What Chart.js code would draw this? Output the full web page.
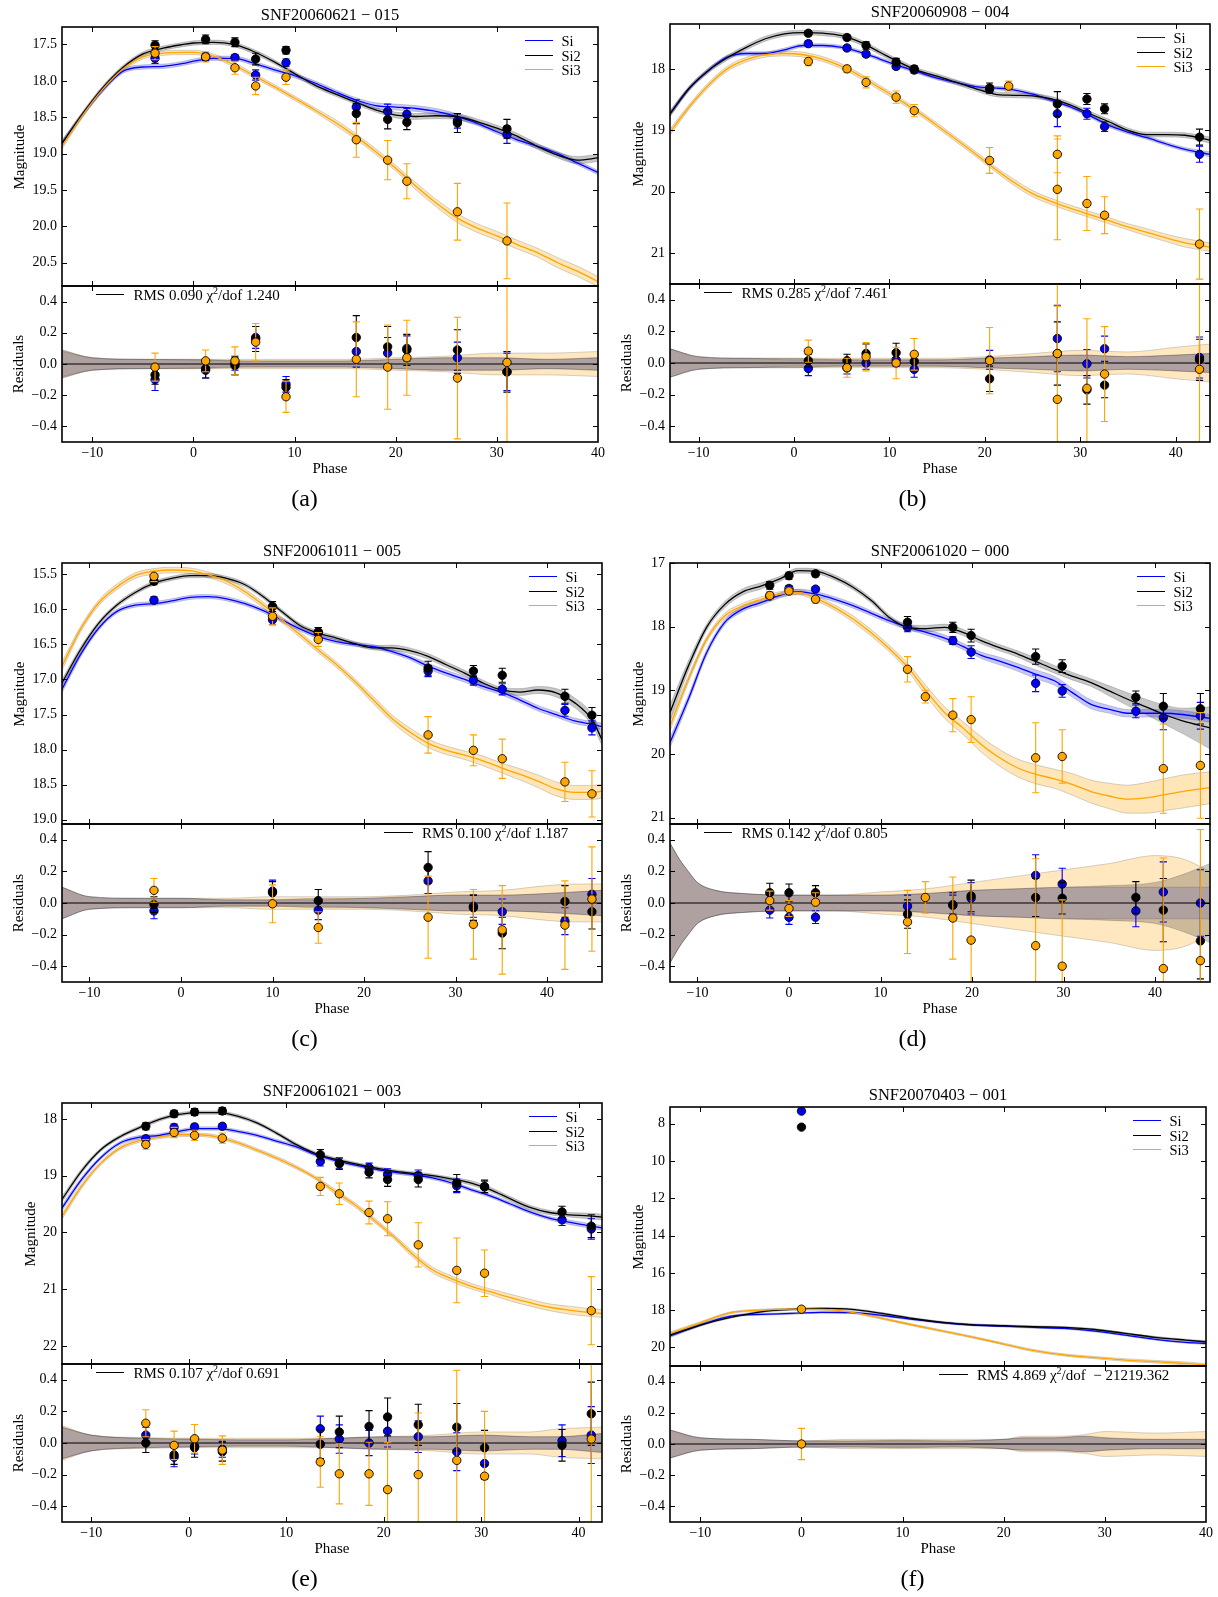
<!DOCTYPE html>
<html>
<head>
<meta charset="utf-8">
<title>Si light curves</title>
<script src="https://cdn.jsdelivr.net/npm/chart.js@4.4.1/dist/chart.umd.min.js"></script>
<style>
  html, body { margin: 0; padding: 0; background: #fff; }
  body { position: relative; width: 1218px; height: 1597px; overflow: hidden;
         font-family: "Liberation Serif", "DejaVu Serif", serif; color: #000; }
  canvas { position: absolute; }
  .t { position: absolute; white-space: nowrap; line-height: 1; }
  .title { font-size: 16.5px; transform: translate(-50%, -50%); }
  .axl { font-size: 15px; transform: translate(-50%, -50%); }
  .rot { font-size: 15px; transform: translate(-50%, -50%) rotate(-90deg); }
  .letter { font-size: 24px; transform: translate(-50%, -50%); }
  .leg { font-size: 14.5px; transform: translateY(-50%); }
  .rms { font-size: 15px; transform: translateY(-50%); }
  .rms sup { font-size: 10px; vertical-align: 6px; line-height: 0; }
  .sw { position: absolute; height: 0; }
</style>
</head>
<body>
<script>
// ---- shared axis settings ----
const phaseTicks = [-10, 0, 10, 20, 30, 40];
const resTicks = [-0.4, -0.2, 0, 0.2, 0.4];
const resRange = [-0.5, 0.5];
const seriesNames = ['Si', 'Si2', 'Si3'];

// ---- (a) SNF20060621 - 015 ----
const titleA = 'SNF20060621 \u2212 015';
const rmsA = 'RMS 0.090 \u03c7<sup>2</sup>/dof 1.240';
const xRangeA = [-13, 40];
const magRangeA = [17.26, 20.82];
const magTicksA = [17.5, 18, 18.5, 19, 19.5, 20, 20.5];
const gridA = [-13, -11, -9, -7, -5, -3, -1, 0, 2, 4, 6, 8, 10, 12, 14, 16, 18, 20, 22, 24, 26, 28, 30, 32, 34, 36, 38, 40];
const fitSiA = [18.86, 18.47, 18.13, 17.87, 17.81, 17.80, 17.76, 17.73, 17.69, 17.69, 17.76, 17.85, 17.93, 18.03, 18.15, 18.26, 18.34, 18.36, 18.38, 18.42, 18.49, 18.58, 18.70, 18.81, 18.90, 19.00, 19.13, 19.26];
const fitSi2A = [18.86, 18.46, 18.10, 17.82, 17.63, 17.55, 17.50, 17.48, 17.47, 17.50, 17.60, 17.74, 17.90, 18.06, 18.18, 18.29, 18.40, 18.47, 18.49, 18.48, 18.49, 18.56, 18.65, 18.76, 18.90, 19.02, 19.09, 19.06];
const fitSi3A = [18.90, 18.48, 18.12, 17.84, 17.67, 17.62, 17.61, 17.61, 17.66, 17.78, 17.93, 18.08, 18.24, 18.40, 18.57, 18.76, 18.97, 19.20, 19.45, 19.68, 19.88, 20.02, 20.13, 20.25, 20.36, 20.50, 20.62, 20.76];
const wSiA = [0.04, 0.03, 0.03, 0.03, 0.03, 0.03, 0.03, 0.03, 0.03, 0.03, 0.03, 0.03, 0.03, 0.03, 0.03, 0.03, 0.04, 0.04, 0.04, 0.04, 0.04, 0.03, 0.03, 0.03, 0.03, 0.03, 0.03, 0.03];
const wSi2A = [0.04, 0.03, 0.03, 0.03, 0.03, 0.03, 0.03, 0.03, 0.03, 0.03, 0.03, 0.03, 0.03, 0.03, 0.03, 0.03, 0.03, 0.04, 0.04, 0.04, 0.04, 0.04, 0.04, 0.04, 0.04, 0.04, 0.05, 0.05];
const wSi3A = [0.04, 0.03, 0.03, 0.03, 0.03, 0.03, 0.03, 0.03, 0.03, 0.03, 0.03, 0.03, 0.03, 0.03, 0.04, 0.04, 0.04, 0.04, 0.05, 0.05, 0.06, 0.06, 0.06, 0.06, 0.06, 0.07, 0.07, 0.07];
const epochA = [-3.8, 1.2, 4.1, 6.15, 9.15, 16.1, 19.2, 21.1, 26.1, 31.0];
const magSiA = [17.69, 17.67, 17.68, 17.92, 17.75, 18.36, 18.42, 18.46, 18.55, 18.74];
const magSi2A = [17.51, 17.43, 17.47, 17.70, 17.58, 18.45, 18.53, 18.57, 18.58, 18.66];
const magSi3A = [17.62, 17.67, 17.82, 18.07, 17.95, 18.81, 19.09, 19.38, 19.80, 20.20];
const errSiA = [0.07, 0.05, 0.04, 0.07, 0.05, 0.10, 0.10, 0.08, 0.10, 0.12];
const errSi2A = [0.06, 0.06, 0.06, 0.08, 0.05, 0.14, 0.13, 0.10, 0.13, 0.13];
const errSi3A = [0.09, 0.07, 0.09, 0.12, 0.10, 0.24, 0.27, 0.24, 0.39, 0.52];
const resSiA = [-0.10, -0.04, 0.00, 0.17, -0.13, 0.08, 0.07, 0.10, 0.04, -0.05];
const resSi2A = [-0.07, -0.03, -0.01, 0.16, -0.15, 0.17, 0.11, 0.09, 0.09, -0.05];
const resSi3A = [-0.02, 0.02, 0.02, 0.14, -0.21, 0.03, -0.02, 0.04, -0.09, 0.01];
const resGridA = [-13, -10, -5, 0, 5, 10, 15, 20, 25, 30, 35, 40];
const resWSiA = [0.08, 0.04, 0.03, 0.025, 0.02, 0.02, 0.02, 0.03, 0.04, 0.04, 0.03, 0.04];
const resWSi2A = [0.09, 0.04, 0.03, 0.03, 0.02, 0.02, 0.02, 0.03, 0.04, 0.04, 0.03, 0.04];
const resWSi3A = [0.09, 0.04, 0.03, 0.03, 0.03, 0.03, 0.03, 0.04, 0.05, 0.07, 0.07, 0.08];

// ---- (b) SNF20060908 - 004 ----
const titleB = 'SNF20060908 \u2212 004';
const rmsB = 'RMS 0.285 \u03c7<sup>2</sup>/dof 7.461';
const xRangeB = [-13, 43.6];
const magRangeB = [17.27, 21.5];
const magTicksB = [18, 19, 20, 21];
const gridB = [-13, -11, -9, -7, -5, -3, -1, 1, 3, 5, 7, 9, 11, 13, 15, 17, 19, 21, 23, 25, 27, 29, 31, 33, 35, 37, 39, 41, 43.6];
const fitSiB = [18.73, 18.32, 18.03, 17.81, 17.75, 17.75, 17.69, 17.62, 17.62, 17.65, 17.73, 17.84, 17.95, 18.05, 18.15, 18.22, 18.29, 18.31, 18.34, 18.41, 18.51, 18.62, 18.76, 18.92, 19.03, 19.12, 19.22, 19.31, 19.39];
const fitSi2B = [18.73, 18.32, 18.03, 17.82, 17.65, 17.51, 17.43, 17.41, 17.42, 17.46, 17.57, 17.73, 17.89, 18.03, 18.12, 18.22, 18.32, 18.41, 18.43, 18.44, 18.49, 18.59, 18.73, 18.86, 19.00, 19.07, 19.07, 19.08, 19.16];
const fitSi3B = [19.03, 18.62, 18.27, 18.00, 17.85, 17.77, 17.75, 17.77, 17.84, 17.96, 18.12, 18.31, 18.50, 18.70, 18.92, 19.15, 19.38, 19.62, 19.84, 20.03, 20.16, 20.27, 20.37, 20.47, 20.57, 20.66, 20.75, 20.83, 20.90];
const wSiB = [0.04, 0.03, 0.03, 0.03, 0.03, 0.03, 0.03, 0.03, 0.03, 0.03, 0.03, 0.03, 0.03, 0.03, 0.03, 0.03, 0.03, 0.03, 0.03, 0.03, 0.03, 0.03, 0.03, 0.03, 0.03, 0.03, 0.03, 0.03, 0.04];
const wSi2B = [0.05, 0.04, 0.04, 0.04, 0.04, 0.04, 0.04, 0.04, 0.04, 0.04, 0.04, 0.04, 0.04, 0.04, 0.04, 0.04, 0.04, 0.04, 0.04, 0.04, 0.04, 0.04, 0.04, 0.04, 0.04, 0.04, 0.04, 0.04, 0.05];
const wSi3B = [0.05, 0.04, 0.04, 0.04, 0.04, 0.04, 0.04, 0.04, 0.04, 0.04, 0.04, 0.04, 0.04, 0.04, 0.04, 0.04, 0.04, 0.04, 0.05, 0.05, 0.05, 0.05, 0.05, 0.05, 0.05, 0.06, 0.06, 0.07, 0.07];
const epochB = [1.5, 5.55, 7.55, 10.7, 12.6, 20.5, 22.5, 27.6, 27.6, 30.7, 32.55, 42.5];
const magSiB = [17.59, 17.66, 17.76, 17.96, 18.02, 18.33, null, 18.73, null, 18.73, 18.94, 19.39];
const magSi2B = [17.42, 17.49, 17.62, 17.89, 18.00, 18.31, null, 18.57, null, 18.49, 18.65, 19.11];
const magSi3B = [17.88, 18.00, 18.22, 18.46, 18.68, 19.49, 18.28, 19.39, 19.96, 20.19, 20.38, 20.85];
const errSiB = [0.045, 0.04, 0.04, 0.04, 0.05, 0.06, null, 0.21, null, 0.09, 0.08, 0.13];
const errSi2B = [0.04, 0.04, 0.06, 0.06, 0.05, 0.08, null, 0.20, null, 0.09, 0.08, 0.13];
const errSi3B = [0.07, 0.06, 0.09, 0.10, 0.10, 0.21, 0.08, 0.30, 0.82, 0.44, 0.30, 0.57];
const resSiB = [-0.035, -0.03, 0.0, 0.02, -0.04, 0.02, null, 0.155, null, -0.005, 0.09, 0.035];
const resSi2B = [0.015, 0.015, 0.06, 0.065, 0.01, -0.10, null, 0.06, null, -0.17, -0.14, 0.02];
const resSi3B = [0.075, -0.03, 0.04, 0.0, 0.055, 0.015, null, 0.06, -0.23, -0.16, -0.07, -0.04];
const resGridB = [-13, -10, -5, 0, 5, 10, 15, 20, 25, 30, 35, 40, 43.6];
const resWSiB = [0.09, 0.04, 0.03, 0.02, 0.02, 0.02, 0.02, 0.03, 0.04, 0.05, 0.04, 0.05, 0.06];
const resWSi2B = [0.09, 0.04, 0.03, 0.03, 0.02, 0.02, 0.02, 0.03, 0.04, 0.05, 0.04, 0.05, 0.06];
const resWSi3B = [0.09, 0.04, 0.03, 0.03, 0.03, 0.03, 0.03, 0.04, 0.06, 0.08, 0.07, 0.10, 0.12];

// ---- (c) SNF20061011 - 005 ----
const titleC = 'SNF20061011 \u2212 005';
const rmsC = 'RMS 0.100 \u03c7<sup>2</sup>/dof 1.187';
const xRangeC = [-13, 46];
const magRangeC = [15.34, 19.06];
const magTicksC = [15.5, 16, 16.5, 17, 17.5, 18, 18.5, 19];
const gridC = [-13, -11, -9, -7, -5, -3, -1, 1, 3, 5, 7, 9, 11, 13, 15, 17, 19, 21, 23, 25, 27, 29, 31, 33, 35, 37, 39, 41, 43, 45, 46];
const fitSiC = [17.14, 16.65, 16.27, 16.03, 15.94, 15.92, 15.88, 15.83, 15.82, 15.85, 15.92, 16.02, 16.15, 16.28, 16.39, 16.46, 16.50, 16.53, 16.60, 16.69, 16.81, 16.91, 17.00, 17.10, 17.18, 17.29, 17.41, 17.50, 17.59, 17.64, 17.67];
const fitSi2C = [17.05, 16.58, 16.20, 15.94, 15.76, 15.63, 15.56, 15.52, 15.52, 15.56, 15.65, 15.82, 16.03, 16.23, 16.34, 16.41, 16.49, 16.55, 16.55, 16.59, 16.67, 16.79, 16.91, 17.05, 17.15, 17.18, 17.15, 17.19, 17.33, 17.59, 17.86];
const fitSi3C = [16.81, 16.29, 15.91, 15.68, 15.52, 15.46, 15.44, 15.45, 15.51, 15.60, 15.75, 15.94, 16.15, 16.36, 16.58, 16.79, 17.03, 17.29, 17.55, 17.75, 17.91, 18.01, 18.08, 18.16, 18.26, 18.35, 18.45, 18.56, 18.61, 18.61, 18.59];
const wSiC = [0.05, 0.04, 0.03, 0.03, 0.03, 0.03, 0.03, 0.03, 0.03, 0.03, 0.03, 0.03, 0.03, 0.03, 0.03, 0.03, 0.03, 0.03, 0.03, 0.03, 0.04, 0.04, 0.04, 0.04, 0.04, 0.04, 0.04, 0.04, 0.04, 0.04, 0.05];
const wSi2C = [0.05, 0.04, 0.03, 0.03, 0.03, 0.03, 0.03, 0.03, 0.03, 0.03, 0.03, 0.03, 0.03, 0.03, 0.03, 0.03, 0.03, 0.03, 0.04, 0.04, 0.04, 0.04, 0.04, 0.04, 0.04, 0.05, 0.05, 0.06, 0.07, 0.08, 0.08];
const wSi3C = [0.06, 0.04, 0.04, 0.04, 0.04, 0.04, 0.04, 0.04, 0.04, 0.04, 0.04, 0.04, 0.04, 0.04, 0.04, 0.04, 0.04, 0.05, 0.05, 0.06, 0.06, 0.06, 0.06, 0.07, 0.07, 0.08, 0.09, 0.10, 0.10, 0.10, 0.10];
const epochC = [-2.95, 10.0, 15.0, 27.0, 31.95, 35.1, 41.95, 44.9];
const magSiC = [15.87, 16.15, 16.32, 16.88, 17.01, 17.14, 17.44, 17.69];
const magSi2C = [15.60, 15.96, 16.33, 16.84, 16.88, 16.94, 17.24, 17.51];
const magSi3C = [15.53, 16.10, 16.43, 17.79, 18.01, 18.13, 18.46, 18.63];
const errSiC = [0.05, 0.07, 0.06, 0.08, 0.07, 0.08, 0.085, 0.10];
const errSi2C = [0.05, 0.07, 0.07, 0.10, 0.08, 0.10, 0.10, 0.11];
const errSi3C = [0.075, 0.12, 0.10, 0.26, 0.22, 0.28, 0.28, 0.33];
const resSiC = [-0.05, 0.075, -0.045, 0.14, -0.02, -0.055, -0.115, 0.055];
const resSi2C = [-0.01, 0.065, 0.015, 0.225, -0.03, -0.19, 0.01, -0.055];
const resSi3C = [0.08, -0.005, -0.155, -0.09, -0.135, -0.17, -0.14, 0.025];
const resGridC = [-13, -10, -5, 0, 5, 10, 15, 20, 25, 30, 35, 40, 43, 46];
const resWSiC = [0.10, 0.04, 0.03, 0.03, 0.02, 0.02, 0.02, 0.03, 0.04, 0.05, 0.05, 0.06, 0.07, 0.08];
const resWSi2C = [0.10, 0.04, 0.03, 0.03, 0.02, 0.02, 0.03, 0.03, 0.04, 0.05, 0.05, 0.06, 0.07, 0.08];
const resWSi3C = [0.10, 0.04, 0.03, 0.03, 0.03, 0.04, 0.04, 0.04, 0.05, 0.07, 0.08, 0.11, 0.12, 0.12];

// ---- (d) SNF20061020 - 000 ----
const titleD = 'SNF20061020 \u2212 000';
const rmsD = 'RMS 0.142 \u03c7<sup>2</sup>/dof 0.805';
const xRangeD = [-13, 46];
const magRangeD = [17.0, 21.1];
const magTicksD = [17, 18, 19, 20, 21];
const gridD = [-13, -11, -9, -7, -5, -3, -1, 1, 3, 5, 7, 9, 11, 13, 15, 17, 19, 21, 23, 25, 27, 29, 31, 33, 35, 37, 39, 41, 43, 46];
const fitSiD = [19.82, 19.14, 18.41, 17.93, 17.72, 17.62, 17.51, 17.45, 17.49, 17.57, 17.67, 17.79, 17.91, 18.01, 18.09, 18.18, 18.31, 18.45, 18.54, 18.64, 18.75, 18.85, 19.04, 19.22, 19.30, 19.36, 19.36, 19.36, 19.38, 19.44];
const fitSi2D = [19.35, 18.62, 18.01, 17.65, 17.45, 17.36, 17.25, 17.12, 17.13, 17.23, 17.38, 17.59, 17.86, 18.01, 18.03, 18.01, 18.09, 18.22, 18.33, 18.43, 18.55, 18.67, 18.78, 18.88, 19.01, 19.14, 19.26, 19.38, 19.48, 19.59];
const fitSi3D = [19.56, 18.83, 18.20, 17.83, 17.67, 17.57, 17.49, 17.46, 17.56, 17.70, 17.88, 18.10, 18.35, 18.64, 19.01, 19.35, 19.59, 19.85, 20.06, 20.22, 20.32, 20.39, 20.48, 20.59, 20.66, 20.71, 20.69, 20.64, 20.59, 20.53];
const wSiD = [0.08, 0.06, 0.05, 0.04, 0.04, 0.04, 0.04, 0.04, 0.04, 0.04, 0.04, 0.04, 0.04, 0.04, 0.04, 0.05, 0.05, 0.05, 0.06, 0.06, 0.07, 0.07, 0.07, 0.07, 0.06, 0.06, 0.06, 0.06, 0.06, 0.06];
const wSi2D = [0.12, 0.08, 0.05, 0.05, 0.05, 0.05, 0.04, 0.04, 0.04, 0.04, 0.04, 0.04, 0.04, 0.04, 0.05, 0.05, 0.05, 0.05, 0.05, 0.05, 0.06, 0.06, 0.06, 0.06, 0.08, 0.10, 0.12, 0.15, 0.20, 0.33];
const wSi3D = [0.08, 0.05, 0.04, 0.04, 0.04, 0.04, 0.04, 0.04, 0.04, 0.04, 0.05, 0.05, 0.05, 0.06, 0.08, 0.09, 0.10, 0.12, 0.13, 0.14, 0.15, 0.15, 0.17, 0.18, 0.20, 0.22, 0.24, 0.25, 0.26, 0.25];
const epochD = [-2.1, 0.0, 2.9, 12.95, 14.9, 17.9, 19.9, 26.95, 29.85, 37.9, 40.9, 44.95];
const magSiD = [17.52, 17.40, 17.41, 18.01, null, 18.22, 18.40, 18.89, 19.01, 19.33, 19.43, 19.40];
const magSi2D = [17.35, 17.20, 17.17, 17.93, null, 18.01, 18.14, 18.47, 18.62, 19.11, 19.25, 19.29];
const magSi3D = [17.51, 17.44, 17.57, 18.67, 19.10, 19.39, 19.46, 20.06, 20.04, null, 20.23, 20.18];
const errSiD = [0.05, 0.045, 0.04, 0.07, null, 0.06, 0.10, 0.13, 0.10, 0.10, 0.19, 0.21];
const errSi2D = [0.06, 0.055, 0.045, 0.09, null, 0.08, 0.10, 0.12, 0.10, 0.10, 0.20, 0.24];
const errSi3D = [0.06, 0.05, 0.06, 0.20, 0.10, 0.26, 0.36, 0.55, 0.42, null, 0.70, 0.83];
const resSiD = [-0.045, -0.09, -0.09, -0.02, null, -0.01, 0.03, 0.175, 0.12, -0.05, 0.07, 0.0];
const resSi2D = [0.065, 0.065, 0.065, -0.07, null, -0.015, 0.045, 0.035, 0.03, 0.035, -0.045, -0.24];
const resSi3D = [0.015, -0.035, 0.005, -0.12, 0.035, -0.095, -0.235, -0.27, -0.40, null, -0.415, -0.365];
const resGridD = [-13, -12, -11, -10, -8, -5, 0, 5, 10, 15, 20, 25, 30, 35, 40, 43, 46];
const resWSiD = [0.38, 0.28, 0.20, 0.13, 0.08, 0.06, 0.05, 0.05, 0.05, 0.06, 0.08, 0.09, 0.10, 0.10, 0.10, 0.10, 0.10];
const resWSi2D = [0.38, 0.28, 0.20, 0.13, 0.08, 0.06, 0.05, 0.05, 0.05, 0.06, 0.08, 0.09, 0.10, 0.11, 0.13, 0.18, 0.25];
const resWSi3D = [0.38, 0.28, 0.20, 0.13, 0.08, 0.06, 0.05, 0.05, 0.07, 0.09, 0.13, 0.17, 0.21, 0.25, 0.30, 0.28, 0.20];

// ---- (e) SNF20061021 - 003 ----
const titleE = 'SNF20061021 \u2212 003';
const rmsE = 'RMS 0.107 \u03c7<sup>2</sup>/dof 0.691';
const xRangeE = [-13, 42.4];
const magRangeE = [17.72, 22.32];
const magTicksE = [18, 19, 20, 21, 22];
const gridE = [-13, -11, -9, -7, -5, -3, -1, 1, 3, 5, 7, 9, 11, 13, 15, 17, 19, 21, 23, 25, 27, 29, 31, 33, 35, 37, 39, 41, 42.4];
const fitSiE = [19.57, 19.07, 18.68, 18.42, 18.32, 18.29, 18.22, 18.17, 18.17, 18.22, 18.29, 18.39, 18.49, 18.63, 18.73, 18.81, 18.88, 18.94, 18.98, 19.04, 19.13, 19.25, 19.36, 19.50, 19.64, 19.75, 19.82, 19.88, 19.92];
const fitSi2E = [19.42, 18.92, 18.54, 18.31, 18.15, 18.01, 17.92, 17.89, 17.89, 17.95, 18.07, 18.25, 18.45, 18.61, 18.71, 18.79, 18.86, 18.92, 18.96, 19.00, 19.06, 19.13, 19.25, 19.41, 19.56, 19.65, 19.69, 19.71, 19.73];
const fitSi3E = [19.72, 19.19, 18.78, 18.51, 18.38, 18.32, 18.28, 18.28, 18.32, 18.42, 18.55, 18.69, 18.85, 19.04, 19.28, 19.51, 19.78, 20.07, 20.39, 20.66, 20.82, 20.95, 21.05, 21.15, 21.24, 21.32, 21.37, 21.41, 21.43];
const wSiE = [0.05, 0.04, 0.03, 0.03, 0.03, 0.03, 0.03, 0.03, 0.03, 0.03, 0.03, 0.03, 0.03, 0.03, 0.03, 0.03, 0.03, 0.03, 0.03, 0.03, 0.03, 0.03, 0.03, 0.03, 0.03, 0.03, 0.04, 0.04, 0.04];
const wSi2E = [0.05, 0.04, 0.03, 0.03, 0.03, 0.03, 0.03, 0.03, 0.03, 0.03, 0.03, 0.03, 0.03, 0.03, 0.03, 0.03, 0.03, 0.03, 0.03, 0.03, 0.03, 0.04, 0.04, 0.04, 0.04, 0.04, 0.04, 0.05, 0.05];
const wSi3E = [0.05, 0.04, 0.03, 0.03, 0.03, 0.03, 0.03, 0.03, 0.03, 0.03, 0.03, 0.03, 0.03, 0.03, 0.04, 0.04, 0.04, 0.04, 0.05, 0.05, 0.05, 0.05, 0.05, 0.06, 0.06, 0.06, 0.07, 0.07, 0.07];
const epochE = [-4.4, -1.5, 0.6, 3.45, 13.5, 15.45, 18.5, 20.4, 23.55, 27.5, 30.35, 38.3, 41.3];
const magSiE = [18.35, 18.15, 18.14, 18.13, 18.75, 18.78, 18.86, 18.98, 19.00, 19.18, 19.20, 19.78, 19.94];
const magSi2E = [18.13, 17.91, 17.88, 17.86, 18.63, 18.79, 18.94, 19.07, 19.07, 19.13, 19.19, 19.64, 19.89];
const magSi3E = [18.45, 18.24, 18.29, 18.34, 19.19, 19.32, 19.65, 19.76, 20.22, 20.67, 20.72, null, 21.38];
const errSiE = [0.05, 0.06, 0.05, 0.05, 0.08, 0.09, 0.08, 0.10, 0.10, 0.12, 0.10, 0.10, 0.18];
const errSi2E = [0.06, 0.06, 0.06, 0.06, 0.09, 0.10, 0.10, 0.12, 0.13, 0.15, 0.11, 0.10, 0.20];
const errSi3E = [0.085, 0.09, 0.09, 0.09, 0.16, 0.19, 0.20, 0.30, 0.39, 0.57, 0.41, null, 0.60];
const resSiE = [0.05, -0.09, -0.02, -0.04, 0.09, 0.025, 0.0, 0.075, 0.04, -0.055, -0.13, 0.015, 0.05];
const resSi2E = [0.0, -0.075, -0.03, -0.055, -0.008, 0.07, 0.105, 0.165, 0.115, 0.10, -0.03, -0.015, 0.185];
const resSi3E = [0.125, -0.015, 0.027, -0.045, -0.12, -0.195, -0.195, -0.295, -0.20, -0.11, -0.21, null, 0.025];
const resGridE = [-13, -10, -5, 0, 5, 10, 15, 20, 25, 30, 35, 38, 42.4];
const resWSiE = [0.10, 0.05, 0.03, 0.025, 0.02, 0.02, 0.03, 0.04, 0.04, 0.05, 0.04, 0.04, 0.06];
const resWSi2E = [0.10, 0.05, 0.03, 0.025, 0.02, 0.02, 0.03, 0.04, 0.04, 0.05, 0.04, 0.04, 0.06];
const resWSi3E = [0.11, 0.05, 0.035, 0.03, 0.03, 0.03, 0.03, 0.04, 0.05, 0.07, 0.07, 0.09, 0.10];

// ---- (f) SNF20070403 - 001 ----
const titleF = 'SNF20070403 \u2212 001';
const rmsF = 'RMS 4.869 \u03c7<sup>2</sup>/dof &nbsp;\u2212 21219.362';
const xRangeF = [-13, 40];
const magRangeF = [7.1, 21.0];
const magTicksF = [8, 10, 12, 14, 16, 18, 20];
const gridF = [-13, -10, -7, -4, -1, 2, 5, 8, 11, 14, 17, 20, 23, 26, 29, 32, 35, 38, 40];
const fitSiF = [19.39, 18.80, 18.32, 18.23, 18.18, 18.12, 18.14, 18.29, 18.50, 18.68, 18.80, 18.86, 18.93, 18.98, 19.13, 19.34, 19.57, 19.73, 19.79];
const fitSi2F = [19.34, 18.80, 18.39, 18.09, 17.96, 17.91, 17.96, 18.18, 18.45, 18.66, 18.79, 18.84, 18.89, 18.93, 19.04, 19.25, 19.46, 19.61, 19.70];
const fitSi3F = [19.25, 18.68, 18.14, 18.00, 17.95, 17.96, 18.12, 18.45, 18.80, 19.13, 19.46, 19.82, 20.18, 20.41, 20.55, 20.68, 20.77, 20.86, 20.95];
const wSiF = [0.08, 0.06, 0.05, 0.05, 0.05, 0.05, 0.05, 0.05, 0.05, 0.05, 0.05, 0.05, 0.05, 0.05, 0.05, 0.05, 0.05, 0.05, 0.06];
const wSi2F = [0.08, 0.06, 0.05, 0.05, 0.05, 0.05, 0.05, 0.05, 0.05, 0.05, 0.05, 0.05, 0.05, 0.05, 0.05, 0.05, 0.05, 0.05, 0.06];
const wSi3F = [0.08, 0.06, 0.05, 0.05, 0.05, 0.05, 0.05, 0.05, 0.05, 0.05, 0.05, 0.05, 0.06, 0.06, 0.06, 0.07, 0.07, 0.08, 0.08];
const epochF = [0.0];
const magSiF = [7.32];
const magSi2F = [8.18];
const magSi3F = [17.95];
const errSiF = [0.05];
const errSi2F = [0.05];
const errSi3F = [0.10];
const resSiF = [-10.86];
const resSi2F = [-9.75];
const resSi3F = [0.0];
const resGridF = [-13, -10, -5, 0, 5, 10, 15, 20, 22, 25, 28, 30, 35, 40];
const resWSiF = [0.09, 0.04, 0.03, 0.02, 0.02, 0.02, 0.02, 0.03, 0.04, 0.04, 0.05, 0.04, 0.03, 0.03];
const resWSi2F = [0.09, 0.04, 0.03, 0.02, 0.02, 0.025, 0.02, 0.03, 0.04, 0.04, 0.05, 0.04, 0.03, 0.03];
const resWSi3F = [0.09, 0.04, 0.03, 0.02, 0.03, 0.03, 0.03, 0.03, 0.05, 0.05, 0.06, 0.08, 0.07, 0.08];

// colours per series (Si, Si2, Si3)
const STYLE = [
    { color: '#0000ff', band: 'rgba(0, 0, 255, 0.22)', resBand: 'rgba(40, 40, 255, 0.16)' },
    { color: '#000000', band: 'rgba(0, 0, 0, 0.22)', resBand: 'rgba(0, 0, 0, 0.2)' },
    { color: '#ffa500', band: 'rgba(255, 165, 0, 0.28)', resBand: 'rgba(255, 165, 0, 0.25)' }
];
const EDGE = 'rgba(0, 0, 0, 0.16)';
const FONT = '"Liberation Serif", "DejaVu Serif", serif';

// panel layout + the arrays that feed each panel
const PANELS = [
    { title: titleA, rms: rmsA, rmsPos: 'left', col: 0, L: 62, R: 598, T: 27, M: 286, B: 442, magX: 18.7, letter: '(a)',
      xRange: xRangeA, magRange: magRangeA, magTicks: magTicksA, magDec: 1, grid: gridA,
      fit: [fitSiA, fitSi2A, fitSi3A], width: [wSiA, wSi2A, wSi3A], epoch: epochA,
      mag: [magSiA, magSi2A, magSi3A], err: [errSiA, errSi2A, errSi3A], res: [resSiA, resSi2A, resSi3A],
      resGrid: resGridA, resWidth: [resWSiA, resWSi2A, resWSi3A] },
    { title: titleB, rms: rmsB, rmsPos: 'left', col: 608, L: 670, R: 1210, T: 24, M: 284, B: 442, magX: 638, letter: '(b)',
      xRange: xRangeB, magRange: magRangeB, magTicks: magTicksB, magDec: 0, grid: gridB,
      fit: [fitSiB, fitSi2B, fitSi3B], width: [wSiB, wSi2B, wSi3B], epoch: epochB,
      mag: [magSiB, magSi2B, magSi3B], err: [errSiB, errSi2B, errSi3B], res: [resSiB, resSi2B, resSi3B],
      resGrid: resGridB, resWidth: [resWSiB, resWSi2B, resWSi3B] },
    { title: titleC, rms: rmsC, rmsPos: 'rightC', col: 0, L: 62, R: 602, T: 563, M: 824, B: 982, magX: 18.7, letter: '(c)',
      xRange: xRangeC, magRange: magRangeC, magTicks: magTicksC, magDec: 1, grid: gridC,
      fit: [fitSiC, fitSi2C, fitSi3C], width: [wSiC, wSi2C, wSi3C], epoch: epochC,
      mag: [magSiC, magSi2C, magSi3C], err: [errSiC, errSi2C, errSi3C], res: [resSiC, resSi2C, resSi3C],
      resGrid: resGridC, resWidth: [resWSiC, resWSi2C, resWSi3C] },
    { title: titleD, rms: rmsD, rmsPos: 'left', col: 608, L: 670, R: 1210, T: 563, M: 824, B: 982, magX: 638, letter: '(d)',
      xRange: xRangeD, magRange: magRangeD, magTicks: magTicksD, magDec: 0, grid: gridD,
      fit: [fitSiD, fitSi2D, fitSi3D], width: [wSiD, wSi2D, wSi3D], epoch: epochD,
      mag: [magSiD, magSi2D, magSi3D], err: [errSiD, errSi2D, errSi3D], res: [resSiD, resSi2D, resSi3D],
      resGrid: resGridD, resWidth: [resWSiD, resWSi2D, resWSi3D] },
    { title: titleE, rms: rmsE, rmsPos: 'left', col: 0, L: 62, R: 602, T: 1103, M: 1364, B: 1522, magX: 30.3, letter: '(e)',
      xRange: xRangeE, magRange: magRangeE, magTicks: magTicksE, magDec: 0, grid: gridE,
      fit: [fitSiE, fitSi2E, fitSi3E], width: [wSiE, wSi2E, wSi3E], epoch: epochE,
      mag: [magSiE, magSi2E, magSi3E], err: [errSiE, errSi2E, errSi3E], res: [resSiE, resSi2E, resSi3E],
      resGrid: resGridE, resWidth: [resWSiE, resWSi2E, resWSi3E] },
    { title: titleF, rms: rmsF, rmsPos: 'rightF', col: 608, L: 670, R: 1206, T: 1107, M: 1366, B: 1522, magX: 638, letter: '(f)',
      xRange: xRangeF, magRange: magRangeF, magTicks: magTicksF, magDec: 0, grid: gridF,
      fit: [fitSiF, fitSi2F, fitSi3F], width: [wSiF, wSi2F, wSi3F], epoch: epochF,
      mag: [magSiF, magSi2F, magSi3F], err: [errSiF, errSi2F, errSi3F], res: [resSiF, resSi2F, resSi3F],
      resGrid: resGridF, resWidth: [resWSiF, resWSi2F, resWSi3F] }
];

function fmt(v, dec) {
    return v.toFixed(dec).replace('-', '\u2212');
}

// error bars with caps, drawn just before the markers of the same dataset
const errorBarPlugin = {
    id: 'errorBars',
    beforeDatasetDraw(chart, args) {
        const ds = chart.data.datasets[args.index];
        if (!ds.errorColor) return;
        const { ctx, chartArea: a } = chart;
        const yScale = chart.scales.y;
        ctx.save();
        ctx.beginPath();
        ctx.rect(a.left, a.top, a.right - a.left, a.bottom - a.top);
        ctx.clip();
        ctx.strokeStyle = ds.errorColor;
        ctx.lineWidth = 1.1;
        ctx.beginPath();
        args.meta.data.forEach((el, i) => {
            const raw = ds.data[i];
            const y1 = yScale.getPixelForValue(raw.y - raw.err);
            const y2 = yScale.getPixelForValue(raw.y + raw.err);
            ctx.moveTo(el.x, y1); ctx.lineTo(el.x, y2);
            ctx.moveTo(el.x - 3.6, y1); ctx.lineTo(el.x + 3.6, y1);
            ctx.moveTo(el.x - 3.6, y2); ctx.lineTo(el.x + 3.6, y2);
        });
        ctx.stroke();
        ctx.restore();
    }
};

// matplotlib-like box with inward ticks on all four sides
const framePlugin = {
    id: 'frame',
    afterDraw(chart, args, opts) {
        const { ctx, chartArea: a } = chart;
        const { x, y } = chart.scales;
        ctx.save();
        ctx.strokeStyle = '#000';
        ctx.lineWidth = 1;
        ctx.beginPath();
        opts.xTicks.forEach(v => {
            if (v <= x.min || v >= x.max) return;
            const px = Math.round(x.getPixelForValue(v)) + 0.5;
            ctx.moveTo(px, a.top); ctx.lineTo(px, a.top + 5);
            ctx.moveTo(px, a.bottom); ctx.lineTo(px, a.bottom - 5);
        });
        opts.yTicks.forEach(v => {
            const py = Math.round(y.getPixelForValue(v)) + 0.5;
            ctx.moveTo(a.left, py); ctx.lineTo(a.left + 5, py);
            ctx.moveTo(a.right, py); ctx.lineTo(a.right - 5, py);
        });
        ctx.stroke();
        ctx.lineWidth = 1.6;
        ctx.strokeRect(a.left, a.top, a.right - a.left, a.bottom - a.top);
        ctx.restore();
    }
};

function markerSet(epochs, vals, errs, style) {
    const data = [];
    epochs.forEach((x, i) => {
        if (vals[i] !== null) data.push({ x: x, y: vals[i], err: errs[i] });
    });
    return {
        data: data, showLine: false, pointRadius: 4.2, pointBorderWidth: 0.9,
        pointBackgroundColor: style.color, pointBorderColor: '#000', errorColor: style.color
    };
}

function lineSet(data, color, width) {
    return { data: data, borderColor: color, borderWidth: width, pointRadius: 0, fill: false,
             cubicInterpolationMode: 'monotone' };
}

// two datasets: upper edge, then lower edge filled up to it
function bandSets(ds, grid, centre, width, fillColor) {
    const upper = ds.length;
    ds.push(lineSet(grid.map((x, i) => ({ x: x, y: centre(i) + width[i] })), EDGE, 1));
    const lower = lineSet(grid.map((x, i) => ({ x: x, y: centre(i) - width[i] })), EDGE, 1);
    lower.fill = upper;
    lower.backgroundColor = fillColor;
    ds.push(lower);
}

function topDatasets(p) {
    const ds = [];
    [2, 1, 0].forEach(k => ds.push(markerSet(p.epoch, p.mag[k], p.err[k], STYLE[k])));
    [2, 1, 0].forEach(k => ds.push(lineSet(p.grid.map((x, i) => ({ x: x, y: p.fit[k][i] })), STYLE[k].color, 1.3)));
    [0, 1, 2].forEach(k => bandSets(ds, p.grid, i => p.fit[k][i], p.width[k], STYLE[k].band));
    return ds;
}

function resDatasets(p) {
    const ds = [];
    [2, 1, 0].forEach(k => ds.push(markerSet(p.epoch, p.res[k], p.err[k], STYLE[k])));
    ds.push(lineSet(p.xRange.map(x => ({ x: x, y: 0 })), '#000', 1.2));
    [1, 0, 2].forEach(k => bandSets(ds, p.resGrid, () => 0, p.resWidth[k], STYLE[k].resBand));
    return ds;
}

function addCanvas(left, top, width, height) {
    const c = document.createElement('canvas');
    c.width = width;
    c.height = height;
    c.style.left = left + 'px';
    c.style.top = top + 'px';
    c.style.width = width + 'px';
    c.style.height = height + 'px';
    document.body.appendChild(c);
    return c;
}

function makeChart(canvas, p, datasets, yRange, yTicks, yDec, reverse, showX) {
    return new Chart(canvas, {
        type: 'line',
        data: { datasets: datasets },
        options: {
            responsive: false,
            animation: false,
            events: [],
            layout: { padding: { left: 0, right: 14, top: 16, bottom: showX ? 0 : 16 } },
            plugins: {
                legend: { display: false },
                tooltip: { enabled: false },
                frame: { xTicks: phaseTicks, yTicks: yTicks }
            },
            scales: {
                x: {
                    type: 'linear', min: p.xRange[0], max: p.xRange[1], display: showX,
                    afterBuildTicks: s => { s.ticks = phaseTicks.map(v => ({ value: v })); },
                    // hidden axis on the light-curve box must take no room
                    afterFit: s => { s.height = showX ? 34 : 0; },
                    grid: { display: false, drawTicks: false },
                    border: { display: false },
                    ticks: { autoSkip: false, maxRotation: 0, padding: 3, color: '#000',
                             font: { family: FONT, size: 14 }, callback: v => fmt(v, 0) }
                },
                y: {
                    type: 'linear', min: yRange[0], max: yRange[1], reverse: reverse,
                    afterBuildTicks: s => { s.ticks = yTicks.map(v => ({ value: v })); },
                    afterFit: s => { s.width = p.L - p.col; },
                    grid: { display: false, drawTicks: false },
                    border: { display: false },
                    ticks: { autoSkip: false, padding: 5, color: '#000',
                             font: { family: FONT, size: 14 }, callback: v => fmt(v, yDec) }
                }
            }
        },
        plugins: [errorBarPlugin, framePlugin]
    });
}

function addText(html, x, y, cls) {
    const d = document.createElement('div');
    d.className = 't ' + cls;
    d.innerHTML = html;
    d.style.left = x + 'px';
    d.style.top = y + 'px';
    document.body.appendChild(d);
}

function addSwatch(x1, x2, y, color) {
    const d = document.createElement('div');
    d.className = 'sw';
    d.style.left = x1 + 'px';
    d.style.width = (x2 - x1) + 'px';
    d.style.top = (y - 0.75) + 'px';
    d.style.borderTop = '1.5px solid ' + color;
    document.body.appendChild(d);
}

function drawPanel(p) {
    const w = p.R + 14 - p.col;
    // light curves
    const topCanvas = addCanvas(p.col, p.T - 16, w, p.M - p.T + 32);
    makeChart(topCanvas, p, topDatasets(p), p.magRange, p.magTicks, p.magDec, true, false);
    // residuals
    const resCanvas = addCanvas(p.col, p.M - 16, w, p.B - p.M + 16 + 34);
    makeChart(resCanvas, p, resDatasets(p), resRange, resTicks, 1, false, true);

    const cx = (p.L + p.R) / 2;
    addText(p.title, cx, p.T - 12, 'title');
    addText('Magnitude', p.magX, (p.T + p.M) / 2, 'rot');
    addText('Residuals', p.col + 17.5, (p.M + p.B) / 2, 'rot');
    addText('Phase', cx, p.B + 26, 'axl');
    addText(p.letter, p.col + 304.5, p.B + 56, 'letter');

    // series legend, upper right of the light-curve box
    seriesNames.forEach((name, k) => {
        const yy = p.T + 14 + 14.5 * k;
        addSwatch(p.R - 73.5, p.R - 45.5, yy, STYLE[k].color);
        addText(name, p.R - 36.5, yy, 'leg');
    });

    // fit-quality legend in the residual box
    let lx = p.L + 33.5;
    if (p.rmsPos === 'rightC') lx = p.R - 218;
    if (p.rmsPos === 'rightF') lx = p.R - 267;
    const ly = p.M + 9;
    addSwatch(lx, lx + 28.5, ly, '#000');
    addText(p.rms, lx + 38, ly, 'rms');
}

PANELS.forEach(drawPanel);
</script>
</body>
</html>
